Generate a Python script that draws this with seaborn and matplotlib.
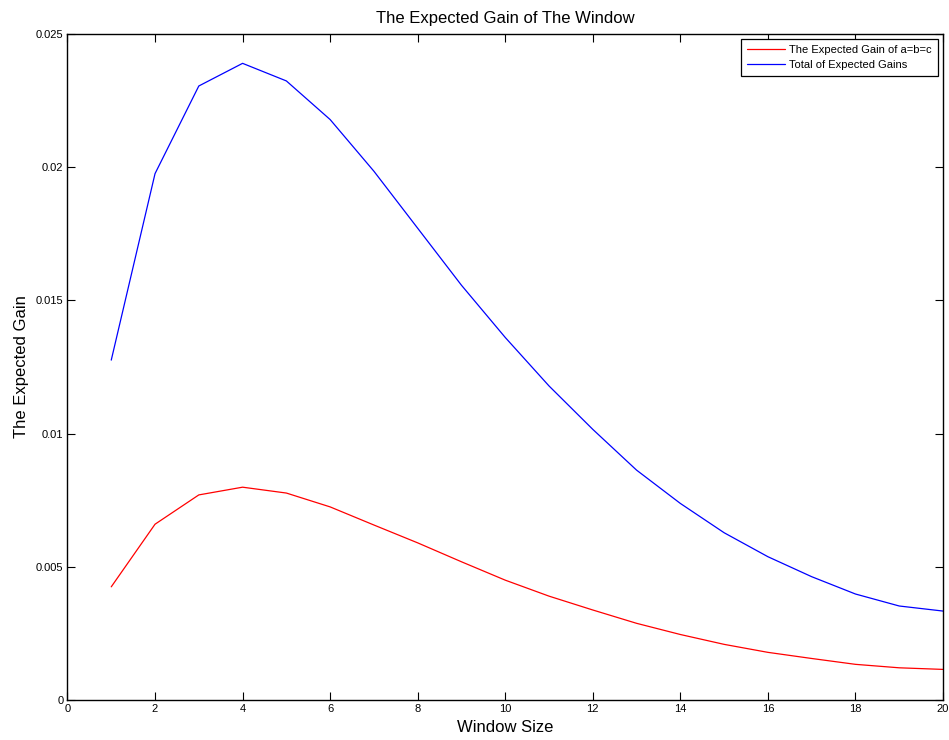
import matplotlib
matplotlib.use("Agg")
import matplotlib.pyplot as plt
import seaborn as sns
import pandas as pd

# Window sizes and expected gains
window_size = list(range(1, 21))
gain_abc = [0.00425, 0.00660, 0.00770, 0.00799, 0.00777, 0.00725, 0.00657, 0.00590,
            0.00519, 0.00450, 0.00390, 0.00338, 0.00288, 0.00246, 0.00209, 0.00179,
            0.00156, 0.00134, 0.00121, 0.00115]
gain_total = [0.01276, 0.01976, 0.02305, 0.02390, 0.02324, 0.02179, 0.01985, 0.01771,
              0.01557, 0.01361, 0.01179, 0.01016, 0.00863, 0.00738, 0.00628, 0.00538,
              0.00463, 0.00398, 0.00353, 0.00334]
series_names = ["The Expected Gain of a=b=c", "Total of Expected Gains"]

df = pd.DataFrame({
    "Window Size": window_size * 2,
    "Gain": gain_abc + gain_total,
    "Series": [series_names[0]] * len(window_size) + [series_names[1]] * len(window_size),
})

sns.set_style("white")
plt.rcParams["font.family"] = ["Liberation Sans", "DejaVu Sans"]
plt.rcParams["text.color"] = "black"
plt.rcParams["axes.labelcolor"] = "black"

fig = plt.figure(figsize=(9.49, 7.40), dpi=100)
ax = fig.add_axes([0.0711, 0.054, 0.9226, 0.900])

sns.lineplot(data=df, x="Window Size", y="Gain", hue="Series",
             palette={series_names[0]: "#ff0000", series_names[1]: "#0000ff"},
             linewidth=0.9, ax=ax)

ax.set_xlim(0, 20)
ax.set_ylim(0, 0.025)
ax.set_xticks(range(0, 21, 2))
ax.set_yticks([0, 0.005, 0.01, 0.015, 0.02, 0.025])
ax.set_yticklabels(["0", "0.005", "0.01", "0.015", "0.02", "0.025"])
ax.tick_params(direction="in", length=6, width=0.8, labelsize=8, colors="black",
               top=True, right=True, bottom=True, left=True, pad=3)
for s in ax.spines.values():
    s.set_color("black")
    s.set_linewidth(1.0)

ax.set_title("The Expected Gain of The Window", fontsize=12, pad=8, color="black")
ax.set_xlabel("Window Size", fontsize=12, labelpad=4)
ax.set_ylabel("The Expected Gain", fontsize=12, labelpad=5)

leg = ax.legend(loc="upper right", fontsize=8, frameon=True, fancybox=False,
                edgecolor="black", framealpha=1, handlelength=3.4,
                borderaxespad=0.45, borderpad=0.55, labelspacing=0.45,
                handletextpad=0.4)
leg.get_frame().set_linewidth(0.9)
for t in leg.get_texts():
    t.set_color("black")

fig.savefig("out.png", dpi=100)
